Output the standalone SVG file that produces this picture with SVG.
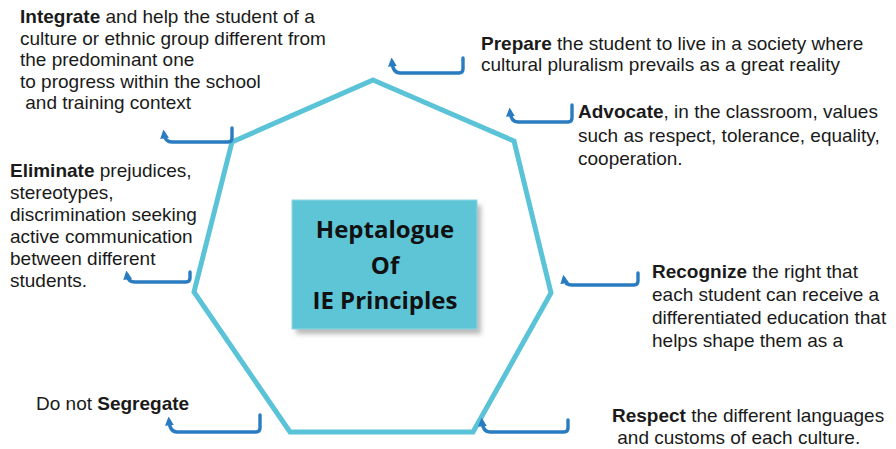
<svg xmlns="http://www.w3.org/2000/svg" width="896" height="449" viewBox="0 0 896 449">
<style>
.t{font-family:"Liberation Sans",Arial,sans-serif;font-size:19px;fill:#1a1a1a}
.b{font-weight:bold}
.c{font-family:"Open Sans","Noto Sans",sans-serif;font-size:24px;font-weight:bold;fill:#111;text-anchor:middle}
.br{fill:none;stroke:#2a7cc0;stroke-width:3.4;stroke-linecap:round;stroke-linejoin:round}
.hx{fill:none;stroke:#5bc3d7;stroke-width:5;stroke-linejoin:miter}
</style>
<defs>
<marker id="tip" viewBox="0 0 10 10" refX="5" refY="5" markerWidth="2.6" markerHeight="2.6" orient="auto-start-reverse">
<path d="M0,0 L10,5 L0,10 z" fill="#2a7cc0"/>
</marker>
<filter id="sh" x="-10%" y="-10%" width="130%" height="130%">
<feGaussianBlur stdDeviation="2.5"/>
</filter>
</defs>
<rect width="896" height="449" fill="#ffffff"/>
<g id="connectors">
<polygon class="hx" points="373,80 514,141 551,293 473,432 290,432 194,292 232,142"/>
<path class="br" marker-start="url(#tip)" d="M164,134 Q165,142 172,142 H228 Q232,142 232,138 V128"/>
<path class="br" marker-start="url(#tip)" d="M392,62 Q393,73 400,73 H459 Q463,73 463,69 V58"/>
<path class="br" marker-start="url(#tip)" d="M510,112 Q511,122 518,122 H568 Q572,122 572,118 V105"/>
<path class="br" marker-start="url(#tip)" d="M127,275 Q128,282 135,282 H186 Q190,282 190,278 V272"/>
<path class="br" marker-start="url(#tip)" d="M564,279 Q565,285 572,285 H634 Q638,285 638,281 V273"/>
<path class="br" marker-start="url(#tip)" d="M169,421 Q170,432 177,432 H256 Q260,432 260,428 V415"/>
<path class="br" marker-start="url(#tip)" d="M482,422 Q483,432 490,432 H564 Q568,432 568,428 V420"/>
</g>
<g id="center">
<rect x="296" y="205" width="185" height="129" fill="#8a8a8a" opacity="0.6" filter="url(#sh)"/>
<rect x="292" y="200" width="185" height="129" fill="#5ec5d7" stroke="#8fd6e3" stroke-width="1"/>
<text class="c" x="385" y="238">Heptalogue</text>
<text class="c" x="385" y="274">Of</text>
<text class="c" x="385" y="309">IE Principles</text>
</g>
<g id="integrate">
<text class="t" x="20" y="23"><tspan class="b">Integrate</tspan> and help the student of a</text>
<text class="t" x="20" y="44.5">culture or ethnic group different from</text>
<text class="t" x="20" y="66">the predominant one</text>
<text class="t" x="20" y="87.5">to progress within the school</text>
<text class="t" x="20" y="109" xml:space="preserve"> and training context</text>
</g>
<g id="prepare">
<text class="t" x="481" y="50"><tspan class="b">Prepare</tspan> the student to live in a society where</text>
<text class="t" x="481" y="71">cultural pluralism prevails as a great reality</text>
</g>
<g id="advocate">
<text class="t" x="578" y="118"><tspan class="b">Advocate</tspan>, in the classroom, values</text>
<text class="t" x="578" y="142">such as respect, tolerance, equality,</text>
<text class="t" x="578" y="165">cooperation.</text>
</g>
<g id="eliminate">
<text class="t" x="10" y="177"><tspan class="b">Eliminate</tspan> prejudices,</text>
<text class="t" x="10" y="199">stereotypes,</text>
<text class="t" x="10" y="221">discrimination seeking</text>
<text class="t" x="10" y="243">active communication</text>
<text class="t" x="10" y="265">between different</text>
<text class="t" x="10" y="287">students.</text>
</g>
<g id="recognize">
<text class="t" x="652" y="278"><tspan class="b">Recognize</tspan> the right that</text>
<text class="t" x="652" y="301">each student can receive a</text>
<text class="t" x="652" y="324">differentiated education that</text>
<text class="t" x="652" y="347">helps shape them as a</text>
</g>
<g id="segregate">
<text class="t" x="36" y="410">Do not <tspan class="b">Segregate</tspan></text>
</g>
<g id="respect">
<text class="t" x="612" y="422"><tspan class="b">Respect</tspan> the different languages</text>
<text class="t" x="612" y="444" xml:space="preserve"> and customs of each culture.</text>
</g>
</svg>
